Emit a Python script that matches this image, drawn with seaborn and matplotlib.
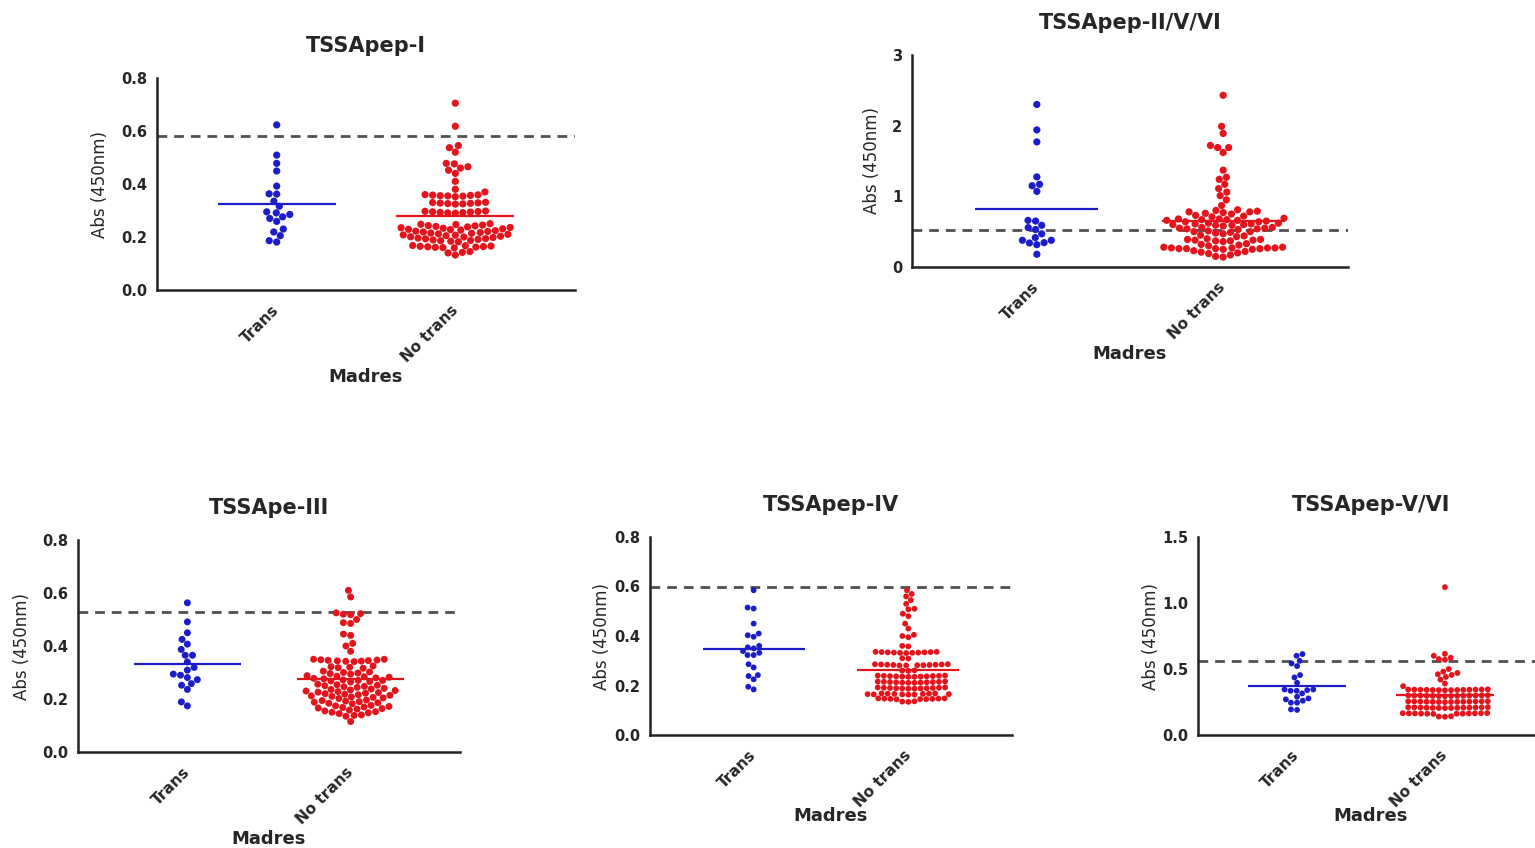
import matplotlib
matplotlib.use("Agg")
import matplotlib.pyplot as plt
import seaborn as sns
import numpy as np
import pandas as pd

# groups and colours
groups = ["Trans", "No trans"]
colors = {"Trans": "#1c1cc8", "No trans": "#e3141c"}

titles = ["TSSApep-I", "TSSApep-II/V/VI", "TSSApe-III", "TSSApep-IV", "TSSApep-V/VI"]
cutoffs = [0.58, 0.52, 0.527, 0.598, 0.562]
yticks = [[0, 0.2, 0.4, 0.6, 0.8], [0, 1, 2, 3], [0, 0.2, 0.4, 0.6, 0.8],
          [0, 0.2, 0.4, 0.6, 0.8], [0, 0.5, 1.0, 1.5]]
ytick_labels = [["0.0", "0.2", "0.4", "0.6", "0.8"], ["0", "1", "2", "3"],
                ["0.0", "0.2", "0.4", "0.6", "0.8"], ["0.0", "0.2", "0.4", "0.6", "0.8"],
                ["0.0", "0.5", "1.0", "1.5"]]

# TSSApep-I
pep1_trans = [0.623, 0.509, 0.478, 0.449, 0.392, 0.363, 0.362, 0.335, 0.316, 0.291,
              0.285, 0.295, 0.276, 0.27, 0.259, 0.23, 0.219, 0.205, 0.181, 0.186]
pep1_notrans = [0.705, 0.618, 0.545, 0.537, 0.52, 0.478, 0.476, 0.465, 0.46, 0.452,
                0.44, 0.41, 0.38, 0.37,
                0.36, 0.359, 0.358, 0.357, 0.356, 0.355, 0.354, 0.352,
                0.331, 0.33, 0.329, 0.328, 0.327, 0.326, 0.325, 0.324,
                0.298, 0.297, 0.296, 0.295, 0.294, 0.293, 0.292, 0.291, 0.29,
                0.25, 0.248, 0.247, 0.245, 0.243, 0.242, 0.24, 0.238, 0.236, 0.235,
                0.233, 0.231, 0.229, 0.228, 0.226, 0.224, 0.222, 0.221, 0.219, 0.217,
                0.215, 0.214, 0.212, 0.21, 0.208, 0.207, 0.205, 0.203, 0.201, 0.2,
                0.198, 0.196, 0.194, 0.193, 0.191, 0.189, 0.187, 0.186, 0.184, 0.182,
                0.168, 0.167, 0.166, 0.165, 0.164, 0.163, 0.162, 0.161, 0.16, 0.159,
                0.145, 0.142, 0.14, 0.132]

# TSSApep-II/V/VI
pep2_trans = [2.30, 1.94, 1.77, 1.275, 1.17, 1.15, 1.07, 0.66, 0.65, 0.59,
              0.557, 0.53, 0.47, 0.416, 0.378, 0.34, 0.316, 0.345, 0.378, 0.18]
pep2_notrans = [2.43, 1.99, 1.89, 1.72, 1.69, 1.69, 1.62, 1.37, 1.27, 1.24,
                1.17, 1.11, 1.06, 1.01, 0.95, 0.87,
                0.81, 0.80, 0.79, 0.78, 0.78, 0.77, 0.76, 0.75,
                0.73, 0.72, 0.71,
                0.69, 0.68, 0.68, 0.67, 0.67, 0.66, 0.66, 0.65, 0.64, 0.64,
                0.62, 0.62, 0.61, 0.61, 0.60, 0.60, 0.59, 0.59, 0.58,
                0.56, 0.56, 0.55, 0.55, 0.54, 0.54, 0.53,
                0.51, 0.50, 0.50, 0.49, 0.48, 0.47,
                0.45, 0.44, 0.43,
                0.40, 0.39, 0.39, 0.38, 0.38, 0.37, 0.37, 0.36,
                0.33, 0.32, 0.31, 0.30,
                0.28, 0.28, 0.27, 0.27, 0.27, 0.27, 0.26, 0.26, 0.26, 0.26, 0.25, 0.25,
                0.23, 0.22, 0.21, 0.20, 0.19, 0.17, 0.15, 0.14]

# TSSApe-III
pep3_trans = [0.563, 0.491, 0.45, 0.425, 0.407, 0.387, 0.365, 0.365, 0.34, 0.319,
              0.309, 0.29, 0.294, 0.281, 0.273, 0.252, 0.258, 0.236, 0.189, 0.174]
pep3_notrans = [0.61, 0.585, 0.525, 0.522, 0.52, 0.518, 0.50, 0.488, 0.485, 0.445,
                0.44, 0.41, 0.40, 0.38,
                0.35, 0.35, 0.348, 0.347, 0.346, 0.345, 0.344, 0.343, 0.342, 0.341,
                0.325, 0.322, 0.32, 0.318, 0.316,
                0.305, 0.302, 0.30, 0.298, 0.296, 0.294,
                0.288, 0.286, 0.284, 0.282, 0.28, 0.278, 0.276,
                0.272, 0.27, 0.27, 0.268, 0.266, 0.264,
                0.256, 0.254, 0.252, 0.25, 0.248, 0.246, 0.244,
                0.24, 0.238, 0.236, 0.234, 0.232, 0.23,
                0.228, 0.226, 0.224, 0.222, 0.22, 0.218, 0.216, 0.214,
                0.212, 0.21, 0.208, 0.206, 0.204, 0.202,
                0.196, 0.194, 0.192, 0.19, 0.188, 0.186, 0.184, 0.182,
                0.176, 0.174, 0.172, 0.17, 0.168, 0.166, 0.164, 0.162,
                0.158, 0.155, 0.152, 0.15, 0.148, 0.145, 0.14, 0.138, 0.135, 0.115]

# TSSApep-IV
pep4_trans = [0.585, 0.515, 0.511, 0.45, 0.41, 0.397, 0.403, 0.35, 0.36, 0.354, 0.339,
              0.332, 0.323, 0.323, 0.273, 0.286, 0.238, 0.242, 0.225, 0.184, 0.195]
pep4_notrans = [0.585, 0.57, 0.56, 0.545, 0.53, 0.51, 0.508, 0.49, 0.48, 0.45,
                0.43, 0.405, 0.40, 0.395, 0.36, 0.358,
                0.336, 0.336, 0.335, 0.335, 0.334, 0.334, 0.333, 0.333, 0.332, 0.332, 0.331,
                0.31, 0.309,
                0.286, 0.286, 0.285, 0.285, 0.284, 0.284, 0.283, 0.283, 0.282, 0.282, 0.281, 0.281,
                0.261, 0.26, 0.259,
                0.24, 0.24, 0.239, 0.239, 0.238, 0.238, 0.237, 0.237, 0.236, 0.236, 0.235, 0.235,
                0.216, 0.216, 0.215, 0.215, 0.214, 0.214, 0.213, 0.213, 0.212, 0.212, 0.211, 0.211,
                0.192, 0.192, 0.191, 0.191, 0.19, 0.19, 0.189, 0.189, 0.188, 0.188, 0.187, 0.187,
                0.168, 0.168, 0.167, 0.167, 0.166, 0.166, 0.165, 0.165, 0.164, 0.164, 0.163, 0.163,
                0.148, 0.148, 0.147, 0.147, 0.146, 0.146, 0.145, 0.145, 0.144,
                0.136, 0.135, 0.134]

# TSSApep-V/VI
pep5_trans = [0.613, 0.6, 0.562, 0.542, 0.522, 0.454, 0.436, 0.396, 0.34, 0.335, 0.345,
              0.335, 0.345, 0.315, 0.29, 0.27, 0.26, 0.277, 0.245, 0.245, 0.19, 0.194]
pep5_notrans = [1.12, 0.615, 0.60, 0.585, 0.575, 0.57, 0.50, 0.48, 0.47, 0.46,
                0.455, 0.44, 0.42, 0.39, 0.37,
                0.346, 0.345, 0.345, 0.344, 0.344, 0.343, 0.343, 0.342, 0.342, 0.341, 0.341, 0.34, 0.34, 0.339,
                0.301, 0.3, 0.3, 0.299, 0.299, 0.298, 0.298, 0.297, 0.297, 0.296, 0.296, 0.295, 0.295, 0.294,
                0.256, 0.255, 0.255, 0.254, 0.254, 0.253, 0.253, 0.252, 0.252, 0.251, 0.251, 0.25, 0.25, 0.249,
                0.211, 0.21, 0.21, 0.209, 0.209, 0.208, 0.208, 0.207, 0.207, 0.206, 0.206, 0.205, 0.205, 0.204,
                0.166, 0.165, 0.165, 0.164, 0.164, 0.163, 0.163, 0.162, 0.162, 0.161, 0.161, 0.16,
                0.142, 0.14, 0.138]

trans_data = [pep1_trans, pep2_trans, pep3_trans, pep4_trans, pep5_trans]
notrans_data = [pep1_notrans, pep2_notrans, pep3_notrans, pep4_notrans, pep5_notrans]

sns.set_style("white")
plt.rcParams["font.family"] = ["DejaVu Sans"]

W, H = 1535, 848
fig = plt.figure(figsize=(W / 100, H / 100), dpi=100)

# axes boxes in pixels: left, top, right, bottom
boxes = [(157, 78, 575, 290), (912, 55, 1348, 267), (78, 540, 460, 752),
         (650, 537, 1012, 735), (1198, 537, 1544, 735)]
ylab_x = [-0.136, -0.091, -0.147, -0.133, -0.136]
dot_size = [5.2, 5.2, 5.0, 4.2, 4.2]

for k in range(5):
    l, t, r, b = boxes[k]
    ax = fig.add_axes([l / W, 1 - b / H, (r - l) / W, (b - t) / H])
    df = pd.DataFrame({
        "Madres": ["Trans"] * len(trans_data[k]) + ["No trans"] * len(notrans_data[k]),
        "Abs": trans_data[k] + notrans_data[k],
    })
    ax.axhline(cutoffs[k], color="#505050", ls=(0, (3.5, 2.5)), lw=2, zorder=1)
    sns.swarmplot(data=df, x="Madres", y="Abs", hue="Madres", palette=colors,
                  order=groups, size=dot_size[k], linewidth=0, legend=False,
                  warn_thresh=1, ax=ax, zorder=2)
    for i, g in enumerate(groups):
        m = df.loc[df["Madres"] == g, "Abs"].mean()
        ax.hlines(m, i - 0.33, i + 0.33, color=colors[g], lw=1.6, zorder=3)

    ax.set_xlim(-0.67, 1.67)
    ax.set_ylim(0, yticks[k][-1])
    ax.set_yticks(yticks[k])
    ax.set_yticklabels(ytick_labels[k], fontweight="bold", fontsize=10.5)
    ax.set_xticks([0, 1])
    ax.set_xticklabels(groups, rotation=45, ha="right", va="center",
                       rotation_mode="anchor", fontweight="bold", fontsize=11)
    ax.tick_params(axis="both", direction="out", length=5, width=1.5, color="#222222")
    ax.tick_params(axis="x", pad=8)
    ax.tick_params(axis="y", pad=2)
    for s in ["top", "right"]:
        ax.spines[s].set_visible(False)
    for s in ["left", "bottom"]:
        ax.spines[s].set_linewidth(1.8)
        ax.spines[s].set_color("#222222")

    ax.set_title(titles[k], fontweight="bold", fontsize=15, pad=19)
    ax.set_xlabel("Madres", fontweight="bold", fontsize=13)
    ax.xaxis.set_label_coords(0.5, -0.41)
    ax.xaxis.label.set_va("center")
    ax.set_ylabel("Abs (450nm)", fontsize=12)
    ax.yaxis.set_label_coords(ylab_x[k], 0.5)
    ax.yaxis.label.set_va("center")

fig.savefig("out.png", dpi=100)
